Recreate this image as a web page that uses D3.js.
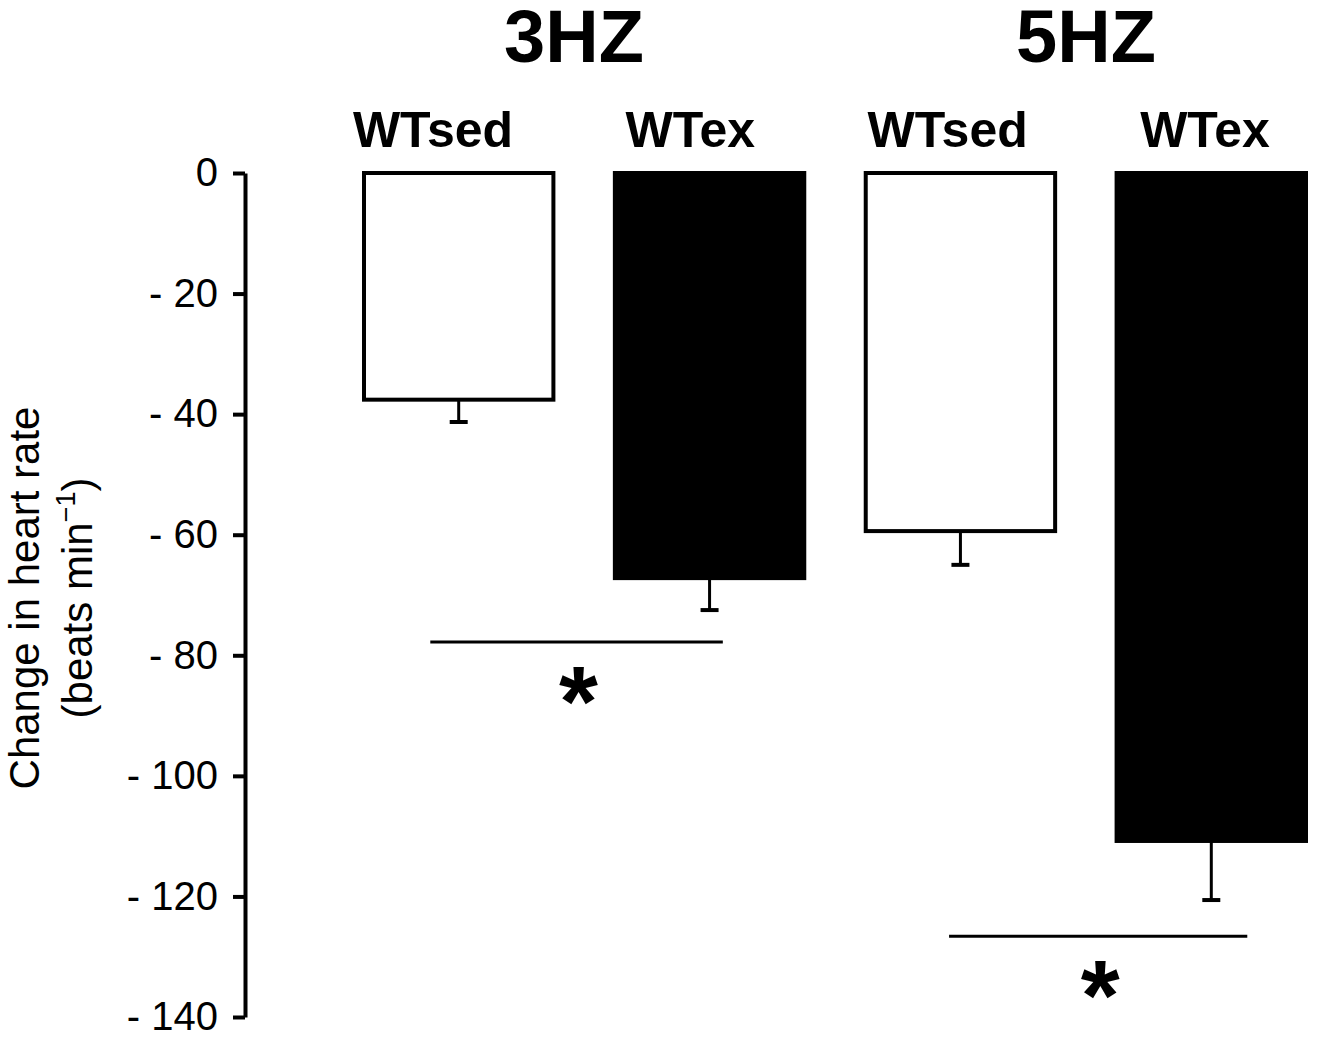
<!DOCTYPE html>
<html>
<head>
<meta charset="utf-8">
<script src="https://cdn.jsdelivr.net/npm/d3@7"></script>
<style>
  body { margin: 0; background: #fff; }
  text { font-family: "Liberation Sans", Arial, Helvetica, sans-serif; }
</style>
</head>
<body>
<div id="main_div"></div>
<script>
// data
var groups = ["3HZ", "5HZ"];
var conditions = ["WTsed", "WTex"];
var means = [-37.6, -67.2, -59.4, -110.8];
var sems = [3.7, 5.3, 5.6, 9.8];
var yTicks = [0, -20, -40, -60, -80, -100, -120, -140];
// significance bars: level of the line, one per group
var sigLevels = [-77.8, -126.6];
// where each line starts/ends, as a fraction of the first/last bar of the group
var sigSpan = [[0.35, 0.57], [0.44, 0.69]];

var bars = [];
groups.forEach(function(g, gi) {
    conditions.forEach(function(c, ci) {
        var i = gi * conditions.length + ci;
        bars.push({key: g + "_" + c, group: g, cond: c, mean: means[i], sem: sems[i]});
    });
});

var width = 1318, height = 1037;
var svg = d3.select("#main_div").append("svg").attr("width", width).attr("height", height);

var y_scale = d3.scaleLinear().domain([0, -140]).range([173, 1017]);
var x_scale = d3.scaleBand().domain(bars.map(function(d) { return d.key; }))
    .range([364, 1306]).paddingInner(0.245).paddingOuter(0);
var bw = x_scale.bandwidth();
// labels above the bars sit a bit left of the bars
var lab_scale = d3.scalePoint().domain(bars.map(function(d) { return d.key; })).range([433, 1205]);
var grp_scale = d3.scalePoint().domain(groups).range([574, 1086]);

// y axis
var g_y = svg.append("g").attr("transform", "translate(245,0)")
    .call(d3.axisLeft(y_scale).tickValues(yTicks).tickSize(12).tickSizeOuter(0).tickPadding(15)
        .tickFormat(function(d) { return d === 0 ? "0" : "- " + (-d); }));
g_y.select(".domain").attr("stroke-width", 4);
g_y.selectAll(".tick line").attr("stroke-width", 4);
g_y.selectAll(".tick text").attr("font-size", 40).attr("fill", "#000")
    .style("font-family", "'Liberation Sans', Arial, sans-serif");

// y label
var ylab = svg.append("text").attr("transform", "translate(39,598) rotate(-90)")
    .attr("text-anchor", "middle").attr("font-size", 42);
ylab.text("Change in heart rate");
var ylab2 = svg.append("text").attr("transform", "translate(92,598) rotate(-90)")
    .attr("text-anchor", "middle").attr("font-size", 42);
ylab2.append("tspan").text("(beats min");
ylab2.append("tspan").attr("font-size", 27).attr("dy", -17).text("\u22121");
ylab2.append("tspan").attr("dy", 17).text(")");

// bars
svg.append("g").selectAll("rect").data(bars).enter().append("rect")
    .attr("x", function(d) { return x_scale(d.key); })
    .attr("y", y_scale(0))
    .attr("width", bw)
    .attr("height", function(d) { return y_scale(d.mean) - y_scale(0); })
    .attr("fill", function(d) { return d.cond === "WTex" ? "#000" : "#fff"; })
    .attr("stroke", "#000").attr("stroke-width", 4);

// error bars
var eb = svg.append("g").selectAll("g").data(bars).enter().append("g");
eb.append("line")
    .attr("x1", function(d) { return x_scale(d.key) + bw / 2; })
    .attr("x2", function(d) { return x_scale(d.key) + bw / 2; })
    .attr("y1", function(d) { return y_scale(d.mean); })
    .attr("y2", function(d) { return y_scale(d.mean - d.sem); })
    .attr("stroke", "#000").attr("stroke-width", 3);
eb.append("line")
    .attr("x1", function(d) { return x_scale(d.key) + bw / 2 - 9; })
    .attr("x2", function(d) { return x_scale(d.key) + bw / 2 + 9; })
    .attr("y1", function(d) { return y_scale(d.mean - d.sem); })
    .attr("y2", function(d) { return y_scale(d.mean - d.sem); })
    .attr("stroke", "#000").attr("stroke-width", 4);

// condition labels
svg.append("g").selectAll("text").data(bars).enter().append("text")
    .attr("x", function(d) { return lab_scale(d.key); })
    .attr("y", 147)
    .attr("text-anchor", "middle").attr("font-size", 50).attr("font-weight", "bold")
    .text(function(d) { return d.cond; });

// group labels
svg.append("g").selectAll("text").data(groups).enter().append("text")
    .attr("x", function(g) { return grp_scale(g); })
    .attr("y", 62)
    .attr("text-anchor", "middle").attr("font-size", 74).attr("font-weight", "bold")
    .text(function(g) { return g; });

// significance
var sigs = groups.map(function(g, i) {
    var a = x_scale(g + "_" + conditions[0]) + bw * sigSpan[i][0];
    var b = x_scale(g + "_" + conditions[1]) + bw * sigSpan[i][1];
    return {x1: a, x2: b, level: sigLevels[i]};
});
var sg = svg.append("g").selectAll("g").data(sigs).enter().append("g");
sg.append("line")
    .attr("x1", function(d) { return d.x1; })
    .attr("x2", function(d) { return d.x2; })
    .attr("y1", function(d) { return y_scale(d.level); })
    .attr("y2", function(d) { return y_scale(d.level); })
    .attr("stroke", "#000").attr("stroke-width", 3);
sg.append("text")
    .attr("x", function(d) { return (d.x1 + d.x2) / 2 + 2; })
    .attr("y", function(d) { return y_scale(d.level) + 94; })
    .attr("text-anchor", "middle").attr("font-size", 100).attr("font-weight", "bold")
    .text("*");
</script>
</body>
</html>
